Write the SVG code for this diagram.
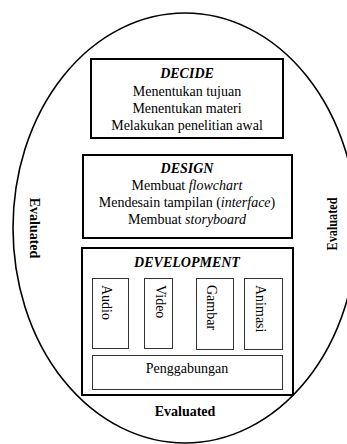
<svg xmlns="http://www.w3.org/2000/svg" width="347" height="444" viewBox="0 0 347 444">
<style>
.t{font-family:"Liberation Serif","Times New Roman",serif;font-size:14px;fill:#000;text-anchor:middle}
.h{font-weight:bold;font-style:italic}
.i{font-style:italic}
.ev{font-family:"Liberation Serif","Times New Roman",serif;font-size:14px;font-weight:bold;fill:#000;text-anchor:middle}
.box{fill:#fff;stroke:#000;stroke-width:2}
.sub{fill:#fff;stroke:#333;stroke-width:1}
.v{font-family:"Liberation Serif","Times New Roman",serif;font-size:14px;fill:#000}
</style>
<rect width="347" height="444" fill="#fff"/>
<g id="evaluation-cycle">
<ellipse cx="185" cy="228" rx="172" ry="215" fill="none" stroke="#000" stroke-width="1.6"/>
<text class="ev" transform="translate(30,228) rotate(90)">Evaluated</text>
<text class="ev" transform="translate(337,224) rotate(-90)" textLength="53" lengthAdjust="spacingAndGlyphs">Evaluated</text>
<text class="ev" x="185" y="416">Evaluated</text>
</g>
<g id="decide">
<rect class="box" x="91" y="59" width="192" height="79"/>
<text class="t h" x="187" y="78">DECIDE</text>
<text class="t" x="187" y="96">Menentukan tujuan</text>
<text class="t" x="187" y="113">Menentukan materi</text>
<text class="t" x="187" y="130">Melakukan penelitian awal</text>
</g>
<g id="design">
<rect class="box" x="83" y="155" width="209" height="83"/>
<text class="t h" x="187" y="173">DESIGN</text>
<text class="t" x="187" y="190">Membuat <tspan class="i">flowchart</tspan></text>
<text class="t" x="187" y="207">Mendesain tampilan (<tspan class="i">interface</tspan>)</text>
<text class="t" x="187" y="224">Membuat <tspan class="i">storyboard</tspan></text>
</g>
<g id="development">
<rect class="box" x="82" y="248" width="211" height="147"/>
<text class="t h" x="187" y="267">DEVELOPMENT</text>
</g>
<g id="audio">
<rect class="sub" x="92.5" y="278.5" width="36" height="70"/>
<text class="v" transform="translate(102,285) rotate(90)">Audio</text>
</g>
<g id="video">
<rect class="sub" x="144.5" y="278.5" width="28" height="70"/>
<text class="v" transform="translate(156,285) rotate(90)">Video</text>
</g>
<g id="gambar">
<rect class="sub" x="196.5" y="278.5" width="37" height="71"/>
<text class="v" transform="translate(207,285) rotate(90)">Gambar</text>
</g>
<g id="animasi">
<rect class="sub" x="244.5" y="278.5" width="38" height="71"/>
<text class="v" transform="translate(256,285) rotate(90)">Animasi</text>
</g>
<g id="penggabungan">
<rect class="sub" x="92.5" y="355.5" width="190" height="34"/>
<text class="t" x="187" y="373">Penggabungan</text>
</g>
<g id="connectors"></g>
</svg>
